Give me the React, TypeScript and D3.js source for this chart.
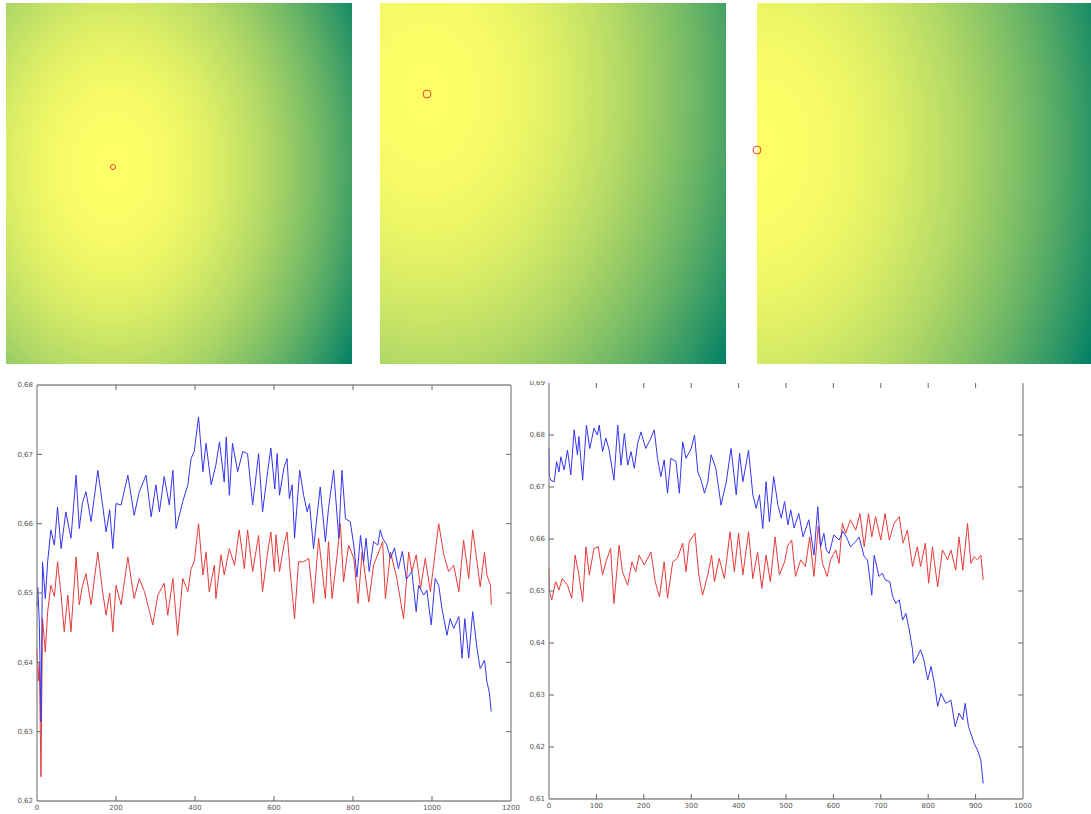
import React from 'react';
import * as d3 from 'd3';

// Top row: three distance maps (image pixel coords), each with its marked point.
const panelSizes: [number, number][] = [[346, 361], [346, 361], [334, 361]];
const panelMarks: [number, number][] = [[107, 164], [47, 91], [0, 147]];
const markRadius = [2.5, 4, 4];

// Bottom-left plot: [iteration, value]
const leftBlue: [number, number][] = [
  [0, 0.648], [2, 0.6508], [6, 0.6455], [10, 0.6314], [14, 0.6545], [21, 0.6492], [27, 0.6545], [35, 0.6591],
  [44, 0.6569], [52, 0.6624], [61, 0.6564], [73, 0.6617], [86, 0.6579], [99, 0.667], [107, 0.6593], [115, 0.663],
  [124, 0.6646], [137, 0.6603], [154, 0.6677], [166, 0.6627], [175, 0.6588], [184, 0.662], [192, 0.6564], [200, 0.6629],
  [213, 0.6627], [230, 0.667], [246, 0.6612], [259, 0.6646], [276, 0.667], [289, 0.661], [301, 0.6656], [310, 0.6617],
  [322, 0.6668], [335, 0.6627], [344, 0.6677], [352, 0.6593], [369, 0.6632], [382, 0.6656], [390, 0.6694], [398, 0.6704],
  [409, 0.6754], [420, 0.6675], [428, 0.6716], [441, 0.6656], [453, 0.6685], [462, 0.6718], [474, 0.666], [479, 0.6725],
  [487, 0.6641], [495, 0.6716], [508, 0.6675], [521, 0.6704], [533, 0.6701], [546, 0.6627], [561, 0.6701], [571, 0.6617],
  [584, 0.6675], [592, 0.6709], [602, 0.665], [608, 0.6701], [614, 0.6641], [625, 0.668], [633, 0.6694], [639, 0.6636],
  [646, 0.6656], [652, 0.6579], [665, 0.6677], [675, 0.6641], [684, 0.6617], [690, 0.6629], [700, 0.6564], [717, 0.6653],
  [730, 0.6574], [738, 0.6622], [751, 0.6677], [764, 0.6579], [772, 0.6677], [781, 0.6607], [793, 0.6603], [802, 0.6569],
  [810, 0.6523], [819, 0.6583], [827, 0.6545], [833, 0.6579], [841, 0.6531], [852, 0.6574], [863, 0.6569], [869, 0.6591],
  [875, 0.6579], [885, 0.657], [895, 0.655], [905, 0.6565], [915, 0.6535], [925, 0.656], [935, 0.652], [949, 0.6531],
  [960, 0.6473], [966, 0.6511], [979, 0.6497], [987, 0.6504], [998, 0.6454], [1008, 0.6521], [1017, 0.6511], [1025, 0.6478],
  [1038, 0.6439], [1046, 0.6463], [1055, 0.6449], [1068, 0.6466], [1076, 0.6406], [1083, 0.6463], [1093, 0.6406], [1103, 0.6473],
  [1114, 0.642], [1122, 0.6391], [1133, 0.6403], [1139, 0.6372], [1145, 0.6357], [1150, 0.6329],
];
const leftRed: [number, number][] = [
  [0, 0.642], [3, 0.6373], [6, 0.64], [10, 0.6235], [14, 0.6463], [21, 0.6415], [27, 0.6473], [35, 0.6511],
  [44, 0.6495], [52, 0.6545], [61, 0.6497], [69, 0.6444], [78, 0.6497], [86, 0.6444], [99, 0.6552], [107, 0.6483],
  [115, 0.651], [124, 0.6528], [137, 0.6483], [154, 0.6559], [166, 0.6502], [175, 0.6468], [184, 0.65], [192, 0.6444],
  [200, 0.6511], [213, 0.6483], [230, 0.6552], [246, 0.6492], [259, 0.6521], [272, 0.6502], [293, 0.6454], [306, 0.6497],
  [322, 0.6514], [331, 0.6468], [344, 0.6521], [356, 0.6439], [369, 0.6521], [382, 0.6502], [390, 0.6535], [398, 0.6545],
  [409, 0.66], [420, 0.6526], [428, 0.6559], [436, 0.6502], [449, 0.654], [453, 0.6492], [466, 0.6555], [474, 0.6526],
  [487, 0.6564], [500, 0.654], [512, 0.6591], [525, 0.6535], [533, 0.6591], [546, 0.6531], [561, 0.6583], [571, 0.6502],
  [584, 0.6559], [592, 0.6588], [601, 0.6531], [605, 0.6584], [614, 0.6531], [625, 0.6569], [633, 0.6588], [641, 0.6531],
  [652, 0.6463], [662, 0.6545], [675, 0.6545], [688, 0.655], [700, 0.6485], [713, 0.6579], [730, 0.6492], [738, 0.6574],
  [747, 0.6492], [760, 0.6555], [768, 0.66], [776, 0.6516], [789, 0.6569], [802, 0.655], [813, 0.6485], [823, 0.6559],
  [840, 0.6487], [852, 0.654], [865, 0.6559], [875, 0.6574], [882, 0.6492], [895, 0.6559], [911, 0.6521], [928, 0.6463],
  [941, 0.6559], [949, 0.6531], [960, 0.6555], [971, 0.6507], [983, 0.655], [996, 0.6502], [1004, 0.654], [1017, 0.66],
  [1030, 0.6555], [1042, 0.6531], [1055, 0.654], [1068, 0.6502], [1080, 0.6576], [1093, 0.6521], [1103, 0.6591], [1114, 0.6545],
  [1122, 0.6509], [1133, 0.6559], [1139, 0.6526], [1148, 0.6511], [1150, 0.6483],
];

// Bottom-right plot
const rightBlue: [number, number][] = [
  [0, 0.6774], [1, 0.672], [4, 0.6713], [11, 0.671], [16, 0.6749], [21, 0.6729], [25, 0.6758], [32, 0.6733],
  [39, 0.6771], [46, 0.6723], [53, 0.681], [60, 0.6762], [63, 0.6797], [71, 0.6713], [79, 0.6819], [86, 0.6774],
  [95, 0.6813], [102, 0.68], [106, 0.6819], [113, 0.6768], [120, 0.6794], [127, 0.6771], [137, 0.6713], [145, 0.6819],
  [152, 0.6742], [159, 0.6803], [166, 0.6742], [173, 0.6768], [180, 0.6736], [187, 0.6784], [194, 0.6806], [204, 0.6774],
  [215, 0.6794], [222, 0.681], [229, 0.6755], [236, 0.672], [243, 0.6752], [250, 0.6688], [257, 0.6755], [268, 0.6749],
  [275, 0.6688], [282, 0.6787], [289, 0.6755], [300, 0.6774], [307, 0.68], [314, 0.6729], [321, 0.6713], [328, 0.6688],
  [335, 0.671], [342, 0.6762], [352, 0.6736], [363, 0.6665], [374, 0.671], [384, 0.6774], [395, 0.6685], [402, 0.6765],
  [409, 0.671], [421, 0.6771], [430, 0.6685], [437, 0.6659], [444, 0.6685], [451, 0.662], [458, 0.671], [465, 0.6633],
  [474, 0.672], [483, 0.6665], [490, 0.664], [497, 0.6672], [504, 0.6627], [510, 0.6656], [517, 0.6621], [527, 0.6649],
  [536, 0.6604], [548, 0.6637], [559, 0.6569], [567, 0.6662], [573, 0.6585], [580, 0.6611], [585, 0.6579], [591, 0.6572],
  [601, 0.6608], [612, 0.6598], [620, 0.6615], [629, 0.6601], [636, 0.6585], [647, 0.6595], [654, 0.6604], [665, 0.6566],
  [672, 0.656], [681, 0.6492], [686, 0.6569], [696, 0.6528], [703, 0.6534], [710, 0.6521], [719, 0.6518], [725, 0.6489],
  [732, 0.6476], [739, 0.6483], [746, 0.6444], [753, 0.6457], [760, 0.6425], [767, 0.6387], [769, 0.6361], [777, 0.6374],
  [784, 0.6387], [791, 0.6367], [799, 0.6329], [806, 0.6355], [813, 0.6322], [820, 0.6278], [827, 0.6303], [837, 0.6284],
  [848, 0.629], [857, 0.6239], [865, 0.6265], [873, 0.6252], [878, 0.6284], [885, 0.6239], [890, 0.6226], [897, 0.6207],
  [904, 0.6194], [911, 0.6175], [916, 0.613],
];
const rightRed: [number, number][] = [
  [0, 0.6544], [1, 0.6499], [6, 0.6483], [14, 0.6518], [21, 0.6502], [28, 0.6524], [39, 0.6511], [48, 0.6486],
  [55, 0.6569], [62, 0.6537], [71, 0.648], [78, 0.6585], [85, 0.6531], [95, 0.6582], [104, 0.6585], [113, 0.6531],
  [120, 0.6556], [130, 0.6582], [137, 0.6476], [148, 0.6588], [155, 0.6537], [166, 0.6511], [175, 0.6556], [183, 0.6537],
  [190, 0.6569], [201, 0.655], [215, 0.6575], [224, 0.6518], [233, 0.6489], [243, 0.6556], [250, 0.6486], [261, 0.6556],
  [271, 0.6563], [282, 0.6592], [289, 0.6537], [296, 0.6595], [308, 0.6611], [316, 0.6531], [324, 0.6492], [335, 0.6531],
  [343, 0.6569], [349, 0.6518], [359, 0.6563], [370, 0.6524], [382, 0.6614], [391, 0.6537], [400, 0.6611], [409, 0.6531],
  [421, 0.6614], [430, 0.6524], [440, 0.6575], [449, 0.6505], [458, 0.6569], [467, 0.6518], [477, 0.6604], [486, 0.6531],
  [497, 0.6556], [504, 0.6588], [512, 0.6598], [520, 0.6528], [531, 0.656], [541, 0.6547], [550, 0.6604], [559, 0.6528],
  [568, 0.6624], [577, 0.6553], [587, 0.6528], [594, 0.656], [605, 0.6579], [612, 0.6553], [619, 0.663], [626, 0.6611],
  [636, 0.6637], [647, 0.6617], [656, 0.6649], [665, 0.6585], [674, 0.6649], [681, 0.6604], [689, 0.6643], [700, 0.6598],
  [709, 0.6649], [718, 0.6598], [728, 0.663], [739, 0.6643], [747, 0.6592], [756, 0.6617], [767, 0.6547], [777, 0.6585],
  [784, 0.6547], [794, 0.6592], [801, 0.6515], [809, 0.6585], [820, 0.6508], [830, 0.6579], [841, 0.656], [848, 0.6579],
  [858, 0.654], [865, 0.6604], [873, 0.654], [883, 0.663], [890, 0.6553], [897, 0.6566], [904, 0.656], [911, 0.6569],
  [916, 0.6521],
];

const PANEL_X = [6, 380, 757];
const PANEL_Y = 3;
const Y_SQUASH = 0.72; // vertical distance counts less in the maps

// matlab "summer"
const summer = d3.interpolateRgb('#008066', '#ffff66');

const fmt = (v: number) => d3.format('.2f')(v).replace('.', ',');

function Heatmap({ i }: { i: number }) {
  const [w, h] = panelSizes[i];
  const [mx, my] = panelMarks[i];
  const sx = d3.scaleLinear().domain([0, w]).range([PANEL_X[i], PANEL_X[i] + w]);
  const sy = d3.scaleLinear().domain([0, h]).range([PANEL_Y, PANEL_Y + h]);
  const corners = [[0, 0], [w, 0], [0, h], [w, h]];
  const rMax = d3.max(corners, c => Math.hypot(c[0] - mx, (c[1] - my) * Y_SQUASH)) as number;
  const stops = d3.range(0, 1.0001, 0.05);
  const id = `hm${i}`;
  const cx = sx(mx), cy = sy(my);
  return (
    <g>
      <defs>
        <radialGradient id={id} gradientUnits="userSpaceOnUse" cx={cx} cy={cy} r={rMax}
          gradientTransform={`translate(${cx},${cy}) scale(1,${1 / Y_SQUASH}) translate(${-cx},${-cy})`}>
          {stops.map(t => (
            <stop key={t} offset={t} stopColor={summer(1 - Math.pow(t, 2))} />
          ))}
        </radialGradient>
      </defs>
      <rect x={sx(0)} y={sy(0)} width={sx(w) - sx(0)} height={sy(h) - sy(0)} fill={`url(#${id})`} />
      <circle cx={cx} cy={cy} r={markRadius[i]} fill="none" stroke="#e8453c" strokeWidth={1} />
    </g>
  );
}

type PlotProps = {
  x0: number; x1: number; y0: number; y1: number;
  xMax: number; yDomain: [number, number];
  xTicks: number; yTicks: number;
  blue: [number, number][]; red: [number, number][];
  topLine: boolean; clipId: string;
};

function Plot(p: PlotProps) {
  const x = d3.scaleLinear().domain([0, p.xMax]).range([p.x0, p.x1]);
  const y = d3.scaleLinear().domain(p.yDomain).range([p.y1, p.y0]);
  const line = d3.line<[number, number]>().x(d => x(d[0])).y(d => y(d[1]));
  const xt = x.ticks(p.xTicks);
  const yt = y.ticks(p.yTicks);
  const axisCol = '#8a8a8a';
  const tk = 5;
  return (
    <g>
      <defs>
        <clipPath id={p.clipId}>
          <rect x={0} y={381} width={1091} height={440} />
        </clipPath>
      </defs>
      <g clipPath={`url(#${p.clipId})`}>
        <path d={line(p.red) || ''} fill="none" stroke="#e83a3a" strokeWidth={1} />
        <path d={line(p.blue) || ''} fill="none" stroke="#3535ee" strokeWidth={1} />
        <g stroke={axisCol} strokeWidth={1.3} fill="none">
          <line x1={p.x0} x2={p.x0} y1={p.y0} y2={p.y1} />
          <line x1={p.x1} x2={p.x1} y1={p.y0} y2={p.y1} />
          <line x1={p.x0} x2={p.x1} y1={p.y1} y2={p.y1} />
          {p.topLine && <line x1={p.x0} x2={p.x1} y1={p.y0} y2={p.y0} />}
        </g>
        <g stroke="#666" strokeWidth={1}>
          {xt.filter(v => v > 0 && v < p.xMax).map(v => (
            <g key={`x${v}`}>
              <line x1={x(v)} x2={x(v)} y1={p.y1} y2={p.y1 - tk} />
              <line x1={x(v)} x2={x(v)} y1={p.y0} y2={p.y0 + tk} />
            </g>
          ))}
          {yt.filter(v => y(v) > p.y0 + 1 && y(v) < p.y1 - 1).map(v => (
            <g key={`y${v}`}>
              <line x1={p.x0} x2={p.x0 + tk} y1={y(v)} y2={y(v)} />
              <line x1={p.x1} x2={p.x1 - tk} y1={y(v)} y2={y(v)} />
            </g>
          ))}
        </g>
        <g fill="#555" fontSize={7} fontFamily="DejaVu Sans, sans-serif">
          {yt.map(v => (
            <text key={`yl${v}`} x={p.x0 - 4} y={y(v)} dy="0.35em" textAnchor="end">{fmt(v)}</text>
          ))}
          {xt.map(v => (
            <text key={`xl${v}`} x={x(v)} y={p.y1 + 9} textAnchor="middle">{v}</text>
          ))}
        </g>
      </g>
    </g>
  );
}

export default function App() {
  return (
    <svg width={1091} height={814} style={{ position: 'absolute', left: 0, top: 0, background: '#fff' }}>
      {panelSizes.map((_, i) => <Heatmap key={i} i={i} />)}
      <Plot x0={37} x1={511} y0={385} y1={801} xMax={1200} yDomain={[0.62, 0.68]} xTicks={6} yTicks={6}
        blue={leftBlue} red={leftRed} topLine={true} clipId="cl" />
      <Plot x0={549} x1={1023} y0={383} y1={799} xMax={1000} yDomain={[0.61, 0.69]} xTicks={10} yTicks={8}
        blue={rightBlue} red={rightRed} topLine={false} clipId="cr" />
    </svg>
  );
}
